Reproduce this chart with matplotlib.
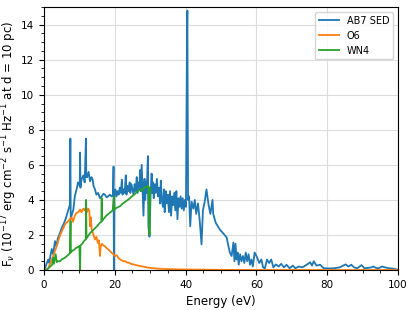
import numpy as np
import matplotlib
matplotlib.use("Agg")
import matplotlib.pyplot as plt
from matplotlib.ticker import AutoMinorLocator

# AB7 SED (energy in eV, flux in 1e-17 erg cm^-2 s^-1 Hz^-1)
ab7_e = [0, 0.3, 0.8, 1.2, 1.5, 1.8, 2.2, 2.6, 3.1, 3.5, 3.9, 4.5, 5.0, 5.5, 5.9, 6.4,
         6.9, 7.3, 7.45, 7.55, 7.8, 8.3, 8.7, 9.2, 9.6, 10.1, 10.2, 10.3, 10.6, 11.1,
         11.5, 11.85, 11.95, 12.2, 12.6, 13.0, 13.4, 13.7, 14.0, 14.4, 14.8, 15.3, 15.8,
         16.3, 16.8, 17.2, 17.7, 18.1, 18.6, 19.1, 19.5, 19.65, 19.75,
         19.9, 20.2, 20.5, 20.8, 21.1, 21.4, 21.7, 22.0, 22.2, 22.5, 22.8, 23.1, 23.3,
         23.6, 23.9, 24.2, 24.4, 24.7, 25.0, 25.3, 25.6, 25.9, 26.2, 26.4, 26.7, 27.0,
         27.1, 27.3, 27.6, 27.9, 28.1, 28.4, 28.6, 28.8, 29.0, 29.35, 29.5, 29.8, 30.1,
         30.4, 30.6, 30.8, 31.0, 31.3, 31.6, 31.9, 32.2, 32.5, 32.8, 33.0, 33.3, 33.6,
         33.9, 34.1, 34.4, 34.7, 35.0, 35.3, 35.6, 35.9, 36.2, 36.5, 36.8, 37.1, 37.4,
         37.7, 38.0, 38.3, 38.6, 38.9, 39.2, 39.5, 39.8, 40.1, 40.4, 40.5, 40.7,
         41.0, 41.3, 41.7, 42.2, 42.6, 43.0, 43.5, 44.0, 44.5, 44.9, 45.4, 45.9, 46.5,
         47.0, 47.6, 47.8, 48.5, 49.7, 50.6, 51.6, 52.0, 52.5, 53.0, 53.5, 53.8, 54.1,
         54.4, 54.7, 55.0, 55.4, 55.8, 56.2, 56.6, 57.0, 57.4, 57.8, 58.2, 58.6, 59.0,
         59.5, 60.2, 60.8, 61.4, 61.9, 62.4, 63.0, 63.6, 64.2, 64.8, 65.5, 66.3, 67.0,
         67.8, 68.5, 69.4, 70.3, 71.0, 72.0, 73.0, 74.2, 75.2, 75.7, 76.2, 77.0, 78.0,
         79.0, 80.6, 82.0, 83.5, 85.2, 86.0, 86.8, 87.6, 88.5, 89.7, 90.5, 91.5, 92.5,
         93.0, 93.8, 94.5, 95.5, 96.3, 97.5, 98.5, 100]
ab7_f = [0, 0.1, 0.4, 0.6, 0.4, 0.8, 1.2, 0.9, 1.65, 1.35, 1.8, 2.1, 2.4, 2.6, 2.8, 3.1,
         3.45, 3.7, 7.5, 2.9, 3.1, 3.45, 4.2, 4.6, 5.0, 4.8, 6.7, 4.7, 5.15, 5.4,
         5.0, 7.5, 5.3, 5.3, 5.6, 5.06, 5.3, 5.2, 4.8, 4.6, 4.3, 4.4, 4.1,
         4.2, 4.35, 4.3, 4.15, 4.2, 4.3, 4.2, 4.3, 5.9, 0.0,
         4.3, 4.6, 4.2, 4.5, 4.3, 4.7, 4.4, 5.15, 4.3, 4.6, 4.4, 5.4, 4.3,
         4.8, 4.5, 5.0, 4.4, 4.9, 4.6, 4.3, 4.9, 4.5, 5.3, 4.4, 5.0, 4.6,
         5.7, 4.5, 6.0, 4.3, 3.1, 5.2, 4.0, 5.0, 4.4, 6.5, 2.5, 1.9, 4.2,
         5.5, 4.4, 5.0, 4.1, 4.9, 4.4, 5.2, 4.2, 4.7, 3.8, 5.1, 4.0, 3.6,
         4.6, 3.3, 4.5, 3.8, 4.3, 3.3, 4.5, 3.1, 4.2, 3.7, 4.4, 3.4, 4.5,
         2.9, 4.1, 3.6, 4.2, 3.5, 4.1, 3.4, 4.0, 3.6, 13.3, 14.8, 4.0,
         4.2, 2.5, 3.9, 3.5, 4.0, 3.2, 3.8, 2.8, 1.46, 3.4, 3.9, 4.6, 3.7,
         3.2, 4.0, 3.2, 2.7, 2.3, 2.1, 1.86, 1.46, 1.0, 0.8, 1.57, 0.5, 1.5,
         0.6, 1.0, 0.3, 0.9, 0.5, 0.8, 0.4, 1.0, 0.5, 0.9, 0.3, 0.6, 0.2,
         1.0, 0.72, 0.4, 0.6, 0.15, 0.1, 0.6, 0.4, 0.6, 0.15, 0.32, 0.2, 0.35,
         0.15, 0.3, 0.1, 0.25, 0.1, 0.2, 0.15, 0.3, 0.44, 0.25, 0.5, 0.25, 0.3,
         0.1, 0.09, 0.1, 0.15, 0.32, 0.2, 0.3, 0.15, 0.1, 0.28, 0.1, 0.12, 0.15,
         0.2, 0.12, 0.1, 0.2, 0.15, 0.1, 0.08, 0.02]

# O6 star
o6_e = [0, 0.8, 1.2, 1.6, 2.2, 2.6, 3.1, 3.5, 4.1, 4.5, 5.0, 5.5, 5.9, 6.4, 6.9, 7.3,
        7.8, 8.2, 8.7, 9.2, 9.7, 10.2, 10.6, 11.1, 11.5, 11.9, 12.1, 12.5, 12.8, 13.0,
        13.2, 13.5, 14.0, 14.4, 14.8, 15.2, 15.5, 15.8, 16.0, 16.3, 16.8, 17.2, 17.7,
        18.2, 18.6, 19.1, 19.6, 20.1, 20.5, 21.0, 21.5, 22.0, 22.5, 23.0, 23.5, 24.0,
        24.5, 25.3, 26.0, 27.0, 28.0, 29.0, 30.0, 31.0, 32.0, 33.0, 34.0, 35.0, 37.0,
        40.0, 45.0, 50.0, 60.0, 100]
o6_f = [0, 0.05, 0.1, 0.3, 0.6, 0.8, 1.1, 1.3, 1.7, 1.95, 2.2, 2.4, 2.6, 2.7, 2.8, 2.9,
        3.0, 2.75, 3.1, 3.26, 3.3, 3.45, 3.3, 3.5, 3.4, 3.6, 3.3, 3.5, 3.4, 2.5,
        3.0, 2.3, 2.0, 1.74, 1.9, 1.55, 1.7, 0.8, 1.3, 1.5, 1.4, 1.36, 1.25,
        1.17, 1.1, 0.98, 0.9, 0.8, 0.85, 0.7, 0.6, 0.55, 0.5, 0.5, 0.42, 0.42,
        0.35, 0.32, 0.28, 0.23, 0.2, 0.15, 0.12, 0.1, 0.08, 0.07, 0.06, 0.05, 0.04,
        0.03, 0.02, 0.01, 0.0, 0.0]

# WN4 star
wn4_e = [0, 0.75, 1.5, 2.3, 2.6, 2.8, 3.3, 3.6, 3.9, 4.5, 5.0, 5.9, 6.5, 7.3, 7.5, 7.6,
         8.0, 8.5, 9.0, 9.5, 10.0, 10.2, 10.3, 10.8, 11.3, 11.8, 11.9, 12.0, 12.5, 13.0,
         13.5, 14.0, 14.5, 15.0, 15.8, 16.2, 16.3, 16.4, 17.0, 17.6, 18.2, 18.8, 19.4,
         19.75, 19.9, 20.5, 21.5, 22.3, 23.0, 24.0, 24.8, 25.5, 26.2, 27.0, 27.6, 28.3,
         29.0, 29.5, 29.8, 30.0]
wn4_f = [0, 0.0, 0.15, 0.3, 0.7, 0.35, 0.9, 0.45, 0.5, 0.5, 0.6, 0.7, 0.8, 0.95, 2.8, 1.0,
         1.1, 1.15, 1.25, 1.3, 1.36, 0.0, 1.4, 1.5, 1.65, 1.75, 4.0, 1.8, 1.95, 2.1,
         2.2, 2.3, 2.4, 2.5, 2.7, 2.75, 4.1, 2.8, 2.95, 3.1, 3.2, 3.3, 3.4,
         4.2, 3.45, 3.55, 3.64, 3.8, 3.9, 4.05, 4.2, 4.3, 4.45, 4.6, 4.5, 4.7,
         4.75, 4.8, 2.0, 4.7]

fig, ax = plt.subplots(figsize=(4.15, 3.10), dpi=100)
fig.subplots_adjust(left=0.106, right=0.959, bottom=0.129, top=0.977)

ax.plot(ab7_e, ab7_f, color="#1f77b4", lw=1.3, label="AB7 SED")
ax.plot(o6_e, o6_f, color="#ff7f0e", lw=1.3, label="O6")
ax.plot(wn4_e, wn4_f, color="#2ca02c", lw=1.3, label="WN4")

ax.set_xlim(0, 100)
ax.set_ylim(0, 15)
ax.xaxis.set_minor_locator(AutoMinorLocator(4))
ax.yaxis.set_minor_locator(AutoMinorLocator(4))
ax.tick_params(labelsize=7.5)
ax.grid(True, color="#dddddd", lw=0.8)
ax.set_axisbelow(True)

ax.set_xlabel("Energy (eV)", fontsize=8.5)
ax.set_ylabel(r"F$_\nu$ (10$^{-17}$ erg cm$^{-2}$ s$^{-1}$ Hz$^{-1}$ at d = 10 pc)", fontsize=8.5)
ax.yaxis.set_label_coords(-0.07, 0.48)
ax.legend(loc="upper right", fontsize=7)

fig.savefig("out.png", dpi=100)
